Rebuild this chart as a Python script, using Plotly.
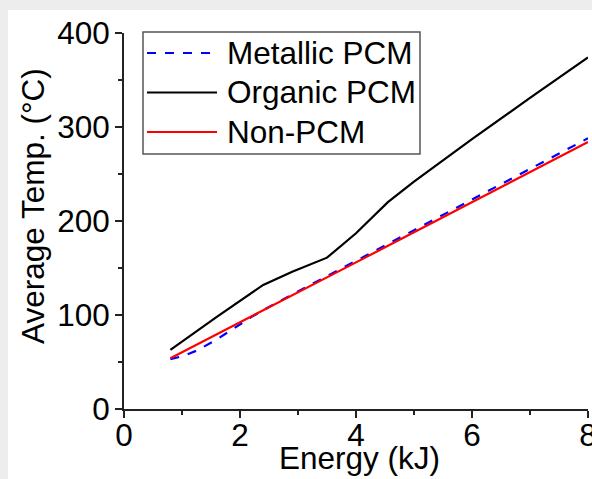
import plotly.graph_objects as go

# Average temperature vs. input energy for three heat-sink designs
metallic_energy = [0.8, 1.0, 1.25, 1.6, 1.9, 2.2, 2.6, 3.0, 3.4, 3.8, 4.2,
                   4.6, 5.0, 5.4, 5.8, 6.2, 6.6, 7.0, 7.4, 7.8, 8.0]
metallic_temp = [53, 56, 62, 74, 86, 98, 112, 125, 138, 151, 164,
                 177, 190, 203, 216, 229, 242, 255, 268, 281, 288]

organic_energy = [0.8, 1.6, 2.4, 2.9, 3.5, 4.0, 4.55, 5.0, 6.0, 7.0, 8.0]
organic_temp = [63, 98, 132, 146, 161, 187, 220, 242, 287, 331, 374]

nonpcm_energy = [0.8, 2.0, 3.0, 4.0, 5.0, 6.0, 7.0, 8.0]
nonpcm_temp = [54, 92, 124, 156, 188, 220, 252, 284]

series_names = ["Metallic PCM", "Organic PCM", "Non-PCM"]
series_colors = ["#0000ff", "#000000", "#ff0000"]
series_dash = ["9px,9px", "solid", "solid"]

FONT = "Arial, Liberation Sans, Helvetica, sans-serif"
FS = 31.5
W, H = 592, 479
M_L, M_R, M_T, M_B = 124, 4, 33, 70
PW, PH = W - M_L - M_R, H - M_T - M_B


def px_x(p):
    return (p - M_L) / PW


def px_y(p):
    return (H - M_B - p) / PH


fig = go.Figure()
for xs, ys, name, color, dash in zip(
        [metallic_energy, organic_energy, nonpcm_energy],
        [metallic_temp, organic_temp, nonpcm_temp],
        series_names, series_colors, series_dash):
    fig.add_trace(go.Scatter(x=xs, y=ys, mode="lines", name=name,
                             line=dict(color=color, width=2.2, dash=dash),
                             showlegend=False))

shapes = []
annotations = []

# white card over a light grey surround
shapes.append(dict(type="rect", xref="paper", yref="paper", layer="below",
                   x0=px_x(8), x1=px_x(W + 2), y0=px_y(H + 2), y1=px_y(10),
                   fillcolor="white", line=dict(width=0)))

# legend box
shapes.append(dict(type="rect", xref="paper", yref="paper",
                   x0=px_x(143), x1=px_x(420), y0=px_y(154), y1=px_y(32),
                   fillcolor="white", line=dict(color="#555555", width=1.5)))
for i, (name, color, dash) in enumerate(zip(series_names, series_colors, series_dash)):
    yy = 53 + i * 39.5
    shapes.append(dict(type="line", xref="paper", yref="paper",
                       x0=px_x(147), x1=px_x(217), y0=px_y(yy), y1=px_y(yy),
                       line=dict(color=color, width=2.2, dash=dash)))
    annotations.append(dict(xref="paper", yref="paper", x=px_x(225), y=px_y(yy),
                            text=name, showarrow=False, xanchor="left", yanchor="middle",
                            font=dict(family=FONT, size=FS, color="black")))

# axis titles
annotations.append(dict(xref="paper", yref="paper", x=px_x(359), y=px_y(478),
                        text="Energy (kJ)", showarrow=False, xanchor="center",
                        yanchor="bottom", font=dict(family=FONT, size=FS, color="black")))
annotations.append(dict(xref="paper", yref="paper", x=px_x(33), y=px_y(206),
                        text="Average Temp. (°C)", showarrow=False, textangle=-90,
                        xanchor="center", yanchor="middle",
                        font=dict(family=FONT, size=FS, color="black")))

axis_common = dict(showgrid=False, zeroline=False, showline=True, linecolor="#222222",
                   linewidth=1.6, ticks="outside", ticklen=7, tickwidth=1.6,
                   tickcolor="#222222", tickfont=dict(family=FONT, size=FS, color="black"),
                   ticklabeloverflow="allow", automargin=False)

fig.update_layout(
    width=W, height=H,
    margin=dict(l=M_L, r=M_R, t=M_T, b=M_B),
    paper_bgcolor="#ededed", plot_bgcolor="white",
    shapes=shapes, annotations=annotations,
    xaxis=dict(range=[0, 8], dtick=2, tick0=0, ticklabelstandoff=-10,
               minor=dict(dtick=1, ticks="outside", ticklen=4, tickwidth=1.6,
                          tickcolor="#222222", showgrid=False),
               **axis_common),
    yaxis=dict(range=[0, 400], dtick=100, tick0=0, ticklabelstandoff=-1,
               minor=dict(dtick=50, ticks="outside", ticklen=4, tickwidth=1.6,
                          tickcolor="#222222", showgrid=False),
               **axis_common),
)

fig.write_html("out.html")
